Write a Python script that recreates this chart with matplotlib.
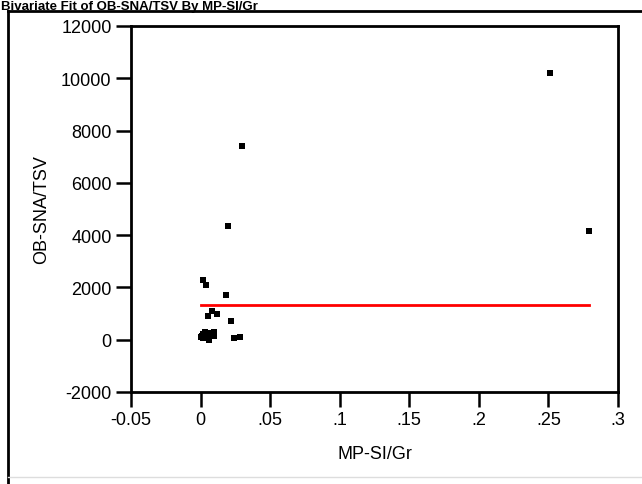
import matplotlib
matplotlib.use("Agg")
import matplotlib.pyplot as plt
from matplotlib.lines import Line2D
import numpy as np

plt.rcParams['font.family'] = ['Liberation Sans', 'DejaVu Sans']

title = "Bivariate Fit of OB-SNA/TSV By MP-SI/Gr"
x_label = "MP-SI/Gr"
y_label = "OB-SNA/TSV"

mp_si_gr = [0.251, 0.279, 0.030, 0.020, 0.002, 0.004, 0.018, 0.008, 0.012,
            0.005, 0.022, 0.028, 0.024, 0.003, 0.007, 0.010, 0.004, 0.009,
            0.006, 0.002, 0.000, 0.001, 0.005, 0.008, 0.003, 0.010, 0.000,
            0.006, 0.002]
ob_sna_tsv = [10200, 4150, 7400, 4350, 2300, 2100, 1700, 1100, 1000,
              900, 700, 100, 50, 300, 250, 300, 200, 200,
              150, 50, 100, 150, 100, 250, 200, 150, 100,
              0, 200]

x_ticks = [-0.05, 0, 0.05, 0.1, 0.15, 0.2, 0.25, 0.3]
x_tick_labels = ["-0.05", "0", ".05", ".1", ".15", ".2", ".25", ".3"]
y_ticks = [-2000, 0, 2000, 4000, 6000, 8000, 10000, 12000]
y_tick_labels = ["-2000", "0", "2000", "4000", "6000", "8000", "10000", "12000"]

W, H = 642, 485
fig = plt.figure(figsize=(W / 100, H / 100), dpi=100)

# outer frame
fig.add_artist(Line2D([8 / W, 8 / W], [0, 1 - 12 / H], transform=fig.transFigure,
                      color='black', lw=2))
fig.add_artist(Line2D([8 / W, 1], [1 - 12 / H, 1 - 12 / H], transform=fig.transFigure,
                      color='black', lw=2))
fig.add_artist(Line2D([8 / W, 1], [1 - 478 / H, 1 - 478 / H], transform=fig.transFigure,
                      color='#dddddd', lw=1))

# title
fig.text(0.002, 1 - 1 / H, title, ha='left', va='top', fontsize=9.5,
         fontweight='bold', color='black')

left, right, top, bottom = 131, 618, 27, 393
ax = fig.add_axes([left / W, 1 - bottom / H, (right - left) / W, (bottom - top) / H])

xd = np.array(mp_si_gr)
yd = np.array(ob_sna_tsv)
fit_y = yd.mean()
ax.plot([xd.min(), xd.max()], [fit_y, fit_y], color='#ff0000', lw=2, zorder=2)
ax.scatter(xd, yd, marker='s', s=20, color='black', zorder=3, linewidths=0)

ax.set_xlim(-0.05, 0.3)
ax.set_ylim(-2000, 12000)
ax.set_xticks(x_ticks)
ax.set_xticklabels(x_tick_labels)
ax.set_yticks(y_ticks)
ax.set_yticklabels(y_tick_labels)
ax.tick_params(direction='out', length=11, width=1.8, labelsize=13, pad=3)
for s in ax.spines.values():
    s.set_linewidth(2)
ax.set_xlabel(x_label, fontsize=13, labelpad=12)
ax.set_ylabel(y_label, fontsize=13, labelpad=8)

fig.savefig("out.png", dpi=100)
